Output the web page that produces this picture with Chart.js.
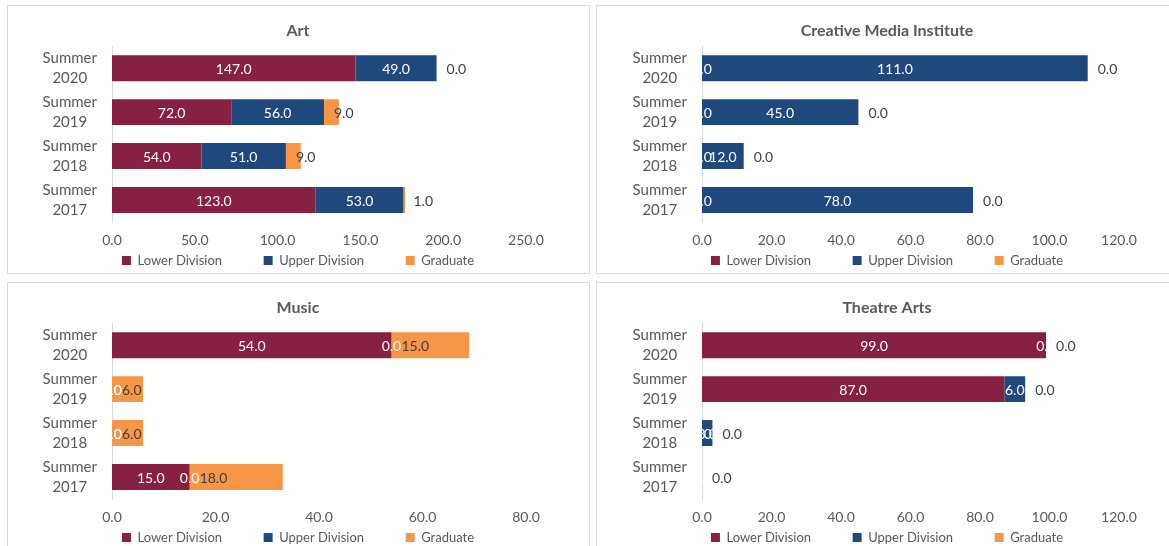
<!DOCTYPE html>
<html>
<head>
<meta charset="utf-8">
<script src="https://cdn.jsdelivr.net/npm/chart.js@4/dist/chart.umd.min.js"></script>
<style>
  html, body { margin: 0; padding: 0; background: #fff; }
  body { width: 1169px; height: 546px; position: relative; overflow: hidden; }
  .panel { position: absolute; width: 583px; height: 269px; box-sizing: border-box; border: 1px solid #d9d9d9; }
  .panel canvas { position: absolute; left: -1px; top: -1px; width: 582px; height: 272px; }
</style>
</head>
<body>
<div class="panel" style="left:7px;top:5px"><canvas id="art" width="582" height="272"></canvas></div>
<div class="panel" style="left:596px;top:5px"><canvas id="cmi" width="582" height="272"></canvas></div>
<div class="panel" style="left:7px;top:282px"><canvas id="music" width="582" height="272"></canvas></div>
<div class="panel" style="left:596px;top:282px"><canvas id="theatre" width="582" height="272"></canvas></div>
<script>
// enrollment by term, top row first
const terms = [['Summer', '2020'], ['Summer', '2019'], ['Summer', '2018'], ['Summer', '2017']];
const seriesNames = ['Lower Division', 'Upper Division', 'Graduate'];
const seriesColors = ['#862141', '#1F497D', '#F79646'];

const artLower = [147, 72, 54, 123];
const artUpper = [49, 56, 51, 53];
const artGrad = [0, 9, 9, 1];

const cmiLower = [0, 0, 0, 0];
const cmiUpper = [111, 45, 12, 78];
const cmiGrad = [0, 0, 0, 0];

const musicLower = [54, 0, 0, 15];
const musicUpper = [0, 0, 0, 0];
const musicGrad = [15, 6, 6, 18];

const theatreLower = [99, 87, 0, 0];
const theatreUpper = [0, 6, 3, 0];
const theatreGrad = [0, 0, 0, 0];

const artAxis = [250, 50];
const cmiAxis = [120, 20];
const musicAxis = [80, 20];
const theatreAxis = [120, 20];

Chart.defaults.font.family = 'Lato, "Open Sans", sans-serif';
Chart.defaults.color = '#595959';

// value labels: lower/upper centred in white, graduate just past its base
const barLabels = {
    id: 'barLabels',
    afterDatasetsDraw(chart) {
        const ctx = chart.ctx;
        ctx.save();
        ctx.font = '14px Lato, "Open Sans", sans-serif';
        ctx.textBaseline = 'middle';
        chart.data.datasets.forEach((ds, i) => {
            chart.getDatasetMeta(i).data.forEach((bar, j) => {
                const p = bar.getProps(['x', 'y', 'base'], true);
                const text = ds.data[j].toFixed(1);
                if (i === 2) {
                    ctx.fillStyle = '#404040';
                    ctx.textAlign = 'left';
                    ctx.fillText(text, p.base + 10, p.y + 1);
                } else {
                    ctx.fillStyle = '#ffffff';
                    ctx.textAlign = 'center';
                    ctx.fillText(text, (p.x + p.base) / 2, p.y + 1);
                }
            });
        });
        ctx.restore();
    }
};

function makeChart(id, title, lower, upper, grad, axis, leftWidth, rightPad) {
    const values = [lower, upper, grad];
    new Chart(document.getElementById(id), {
        type: 'bar',
        data: {
            labels: terms,
            datasets: values.map((v, i) => ({
                label: seriesNames[i],
                data: v,
                backgroundColor: seriesColors[i],
                borderWidth: 0,
                barPercentage: 0.59,
                categoryPercentage: 1
            }))
        },
        options: {
            indexAxis: 'y',
            responsive: false,
            animation: false,
            devicePixelRatio: 1,
            layout: { padding: 0 },
            plugins: {
                title: {
                    display: true,
                    text: title,
                    color: '#595959',
                    font: { size: 16, weight: 'bold' },
                    padding: { top: 16, bottom: 6 }
                },
                legend: {
                    position: 'bottom',
                    labels: {
                        boxWidth: 9,
                        boxHeight: 9,
                        padding: 5,
                        color: '#595959',
                        font: { size: 13 },
                        generateLabels(chart) {
                            const items = Chart.defaults.plugins.legend.labels.generateLabels(chart);
                            items.forEach((it, i) => {
                                if (i < items.length - 1) it.text += ' '.repeat(11);
                            });
                            return items;
                        }
                    }
                },
                tooltip: { enabled: false }
            },
            scales: {
                x: {
                    stacked: true,
                    min: 0,
                    max: axis[0],
                    grid: { display: false, drawTicks: false },
                    border: { display: false },
                    ticks: {
                        stepSize: axis[1],
                        padding: 10,
                        color: '#595959',
                        font: { size: 14 },
                        callback: v => v.toFixed(1)
                    },
                    afterFit(scale) {
                        scale.height = 27;
                        scale.paddingRight = rightPad;
                    }
                },
                y: {
                    stacked: true,
                    grid: { display: false, drawTicks: false },
                    border: { display: true, color: '#d9d9d9', width: 1 },
                    ticks: {
                        crossAlign: 'center',
                        padding: 15,
                        color: '#595959',
                        font: { size: 15, lineHeight: '20px' }
                    },
                    afterFit(scale) {
                        scale.width = leftWidth;
                        scale.paddingTop = 0;
                        scale.paddingBottom = 0;
                    }
                }
            }
        },
        plugins: [barLabels]
    });
}

makeChart('art', 'Art', artLower, artUpper, artGrad, artAxis, 105, 63);
makeChart('cmi', 'Creative Media Institute', cmiLower, cmiUpper, cmiGrad, cmiAxis, 106, 59);
makeChart('music', 'Music', musicLower, musicUpper, musicGrad, musicAxis, 105, 63);
makeChart('theatre', 'Theatre Arts', theatreLower, theatreUpper, theatreGrad, theatreAxis, 106, 59);
</script>
</body>
</html>
